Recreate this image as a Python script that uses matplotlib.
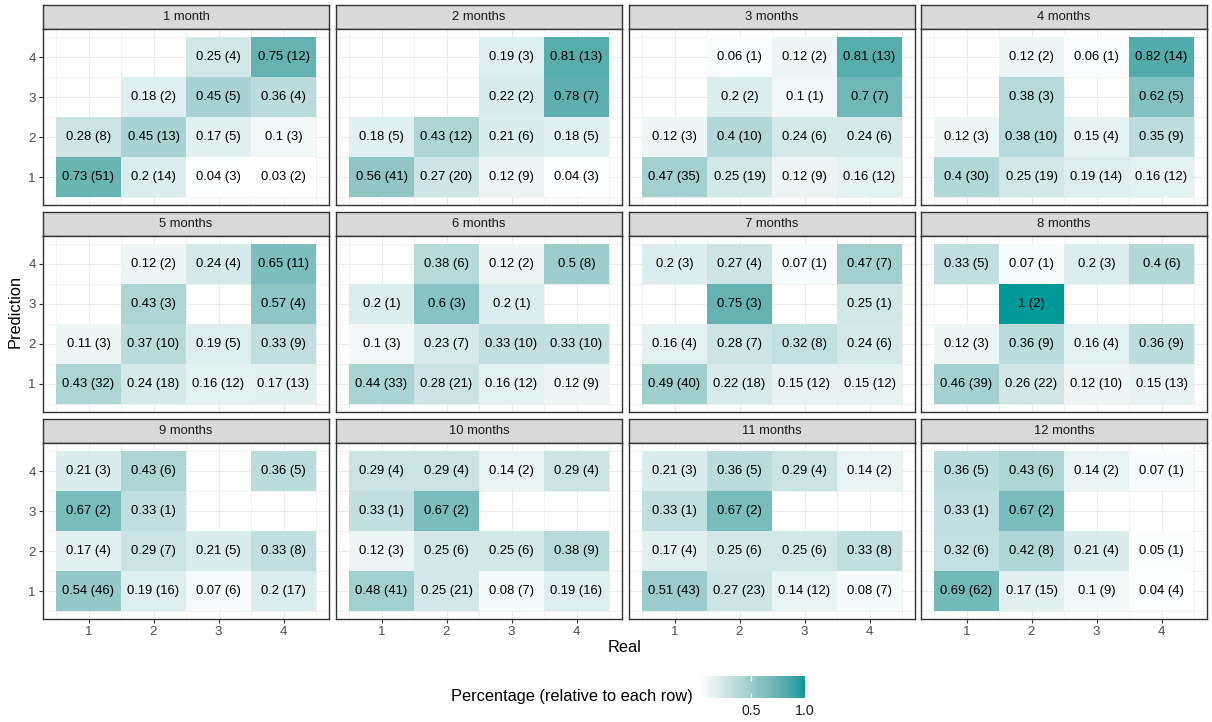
import numpy as np
import matplotlib
matplotlib.use("Agg")
import matplotlib.pyplot as plt
from matplotlib.colors import ListedColormap, Normalize


plt.rcParams["font.family"] = ["Liberation Sans", "DejaVu Sans"]

# ----------------------------
# Data: rows = Prediction 1..4, columns = Real 1..4
# ----------------------------
nan = np.nan
months = ["1 month", "2 months", "3 months", "4 months",
          "5 months", "6 months", "7 months", "8 months",
          "9 months", "10 months", "11 months", "12 months"]
real = [1, 2, 3, 4]
prediction = [1, 2, 3, 4]

p01 = [[0.73, 0.2, 0.04, 0.03], [0.28, 0.45, 0.17, 0.1], [nan, 0.18, 0.45, 0.36], [nan, nan, 0.25, 0.75]]
n01 = [[51, 14, 3, 2], [8, 13, 5, 3], [nan, 2, 5, 4], [nan, nan, 4, 12]]
p02 = [[0.56, 0.27, 0.12, 0.04], [0.18, 0.43, 0.21, 0.18], [nan, nan, 0.22, 0.78], [nan, nan, 0.19, 0.81]]
n02 = [[41, 20, 9, 3], [5, 12, 6, 5], [nan, nan, 2, 7], [nan, nan, 3, 13]]
p03 = [[0.47, 0.25, 0.12, 0.16], [0.12, 0.4, 0.24, 0.24], [nan, 0.2, 0.1, 0.7], [nan, 0.06, 0.12, 0.81]]
n03 = [[35, 19, 9, 12], [3, 10, 6, 6], [nan, 2, 1, 7], [nan, 1, 2, 13]]
p04 = [[0.4, 0.25, 0.19, 0.16], [0.12, 0.38, 0.15, 0.35], [nan, 0.38, nan, 0.62], [nan, 0.12, 0.06, 0.82]]
n04 = [[30, 19, 14, 12], [3, 10, 4, 9], [nan, 3, nan, 5], [nan, 2, 1, 14]]
p05 = [[0.43, 0.24, 0.16, 0.17], [0.11, 0.37, 0.19, 0.33], [nan, 0.43, nan, 0.57], [nan, 0.12, 0.24, 0.65]]
n05 = [[32, 18, 12, 13], [3, 10, 5, 9], [nan, 3, nan, 4], [nan, 2, 4, 11]]
p06 = [[0.44, 0.28, 0.16, 0.12], [0.1, 0.23, 0.33, 0.33], [0.2, 0.6, 0.2, nan], [nan, 0.38, 0.12, 0.5]]
n06 = [[33, 21, 12, 9], [3, 7, 10, 10], [1, 3, 1, nan], [nan, 6, 2, 8]]
p07 = [[0.49, 0.22, 0.15, 0.15], [0.16, 0.28, 0.32, 0.24], [nan, 0.75, nan, 0.25], [0.2, 0.27, 0.07, 0.47]]
n07 = [[40, 18, 12, 12], [4, 7, 8, 6], [nan, 3, nan, 1], [3, 4, 1, 7]]
p08 = [[0.46, 0.26, 0.12, 0.15], [0.12, 0.36, 0.16, 0.36], [nan, 1.0, nan, nan], [0.33, 0.07, 0.2, 0.4]]
n08 = [[39, 22, 10, 13], [3, 9, 4, 9], [nan, 2, nan, nan], [5, 1, 3, 6]]
p09 = [[0.54, 0.19, 0.07, 0.2], [0.17, 0.29, 0.21, 0.33], [0.67, 0.33, nan, nan], [0.21, 0.43, nan, 0.36]]
n09 = [[46, 16, 6, 17], [4, 7, 5, 8], [2, 1, nan, nan], [3, 6, nan, 5]]
p10 = [[0.48, 0.25, 0.08, 0.19], [0.12, 0.25, 0.25, 0.38], [0.33, 0.67, nan, nan], [0.29, 0.29, 0.14, 0.29]]
n10 = [[41, 21, 7, 16], [3, 6, 6, 9], [1, 2, nan, nan], [4, 4, 2, 4]]
p11 = [[0.51, 0.27, 0.14, 0.08], [0.17, 0.25, 0.25, 0.33], [0.33, 0.67, nan, nan], [0.21, 0.36, 0.29, 0.14]]
n11 = [[43, 23, 12, 7], [4, 6, 6, 8], [1, 2, nan, nan], [3, 5, 4, 2]]
p12 = [[0.69, 0.17, 0.1, 0.04], [0.32, 0.42, 0.21, 0.05], [0.33, 0.67, nan, nan], [0.36, 0.43, 0.14, 0.07]]
n12 = [[62, 15, 9, 4], [6, 8, 4, 1], [1, 2, nan, nan], [5, 6, 2, 1]]

props = [p01, p02, p03, p04, p05, p06, p07, p08, p09, p10, p11, p12]
counts = [n01, n02, n03, n04, n05, n06, n07, n08, n09, n10, n11, n12]


# ----------------------------
# White -> teal gradient interpolated in CIELAB
# ----------------------------
M = np.array([[0.4124, 0.3576, 0.1805],
              [0.2126, 0.7152, 0.0722],
              [0.0193, 0.1192, 0.9505]])
WHITE = np.array([0.95047, 1.0, 1.08883])
D = 6 / 29


def srgb_to_lab(rgb):
    rgb = np.asarray(rgb, float)
    lin = np.where(rgb <= 0.04045, rgb / 12.92, ((rgb + 0.055) / 1.055) ** 2.4)
    t = (lin @ M.T) / WHITE
    f = np.where(t > D ** 3, np.cbrt(t), t / (3 * D ** 2) + 4 / 29)
    return np.stack([116 * f[..., 1] - 16,
                     500 * (f[..., 0] - f[..., 1]),
                     200 * (f[..., 1] - f[..., 2])], -1)


def lab_to_srgb(lab):
    fy = (lab[..., 0] + 16) / 116
    f = np.stack([fy + lab[..., 1] / 500, fy, fy - lab[..., 2] / 200], -1)
    t = np.where(f > D, f ** 3, 3 * D ** 2 * (f - 4 / 29))
    lin = np.clip((t * WHITE) @ np.linalg.inv(M).T, 0, 1)
    rgb = np.where(lin <= 0.0031308, 12.92 * lin, 1.055 * lin ** (1 / 2.4) - 0.055)
    return np.clip(rgb, 0, 1)


low = srgb_to_lab([1.0, 1.0, 1.0])
high = srgb_to_lab(np.array([0x00, 0x99, 0x99]) / 255)
steps = np.linspace(0, 1, 256)[:, None]
cmap = ListedColormap(lab_to_srgb(low + steps * (high - low)))

all_props = np.array(props, float)
norm = Normalize(np.nanmin(all_props), np.nanmax(all_props))


def fmt(v):
    return f"{round(v, 2):g}"


# ----------------------------
# Layout (pixels)
# ----------------------------
W, H = 1212, 722
col_left = [43, 336, 629, 921]
panel_w = 286
row_top = [5, 212, 419]
strip_h = 24
panel_h = 176

fig = plt.figure(figsize=(W / 100, H / 100), dpi=100)


def box(x, y, w, h):
    return [x / W, 1 - (y + h) / H, w / W, h / H]


edges = np.arange(0.5, 5.0, 1.0)

for i, month in enumerate(months):
    r, c = divmod(i, 4)
    x0 = col_left[c]
    y0 = row_top[r]

    # strip
    sax = fig.add_axes(box(x0, y0, panel_w, strip_h))
    sax.set_facecolor("#D9D9D9")
    sax.set_xticks([])
    sax.set_yticks([])
    for sp in sax.spines.values():
        sp.set_color("#333333")
        sp.set_linewidth(1.0)
    sax.text(0.5, 0.5, month, ha="center", va="center", fontsize=9.4,
             color="#1A1A1A", transform=sax.transAxes)

    # panel
    ax = fig.add_axes(box(x0, y0 + strip_h, panel_w, panel_h))
    vals = np.ma.masked_invalid(np.array(props[i], float))
    ax.pcolormesh(edges, edges, vals, cmap=cmap, norm=norm, zorder=2)
    for yi, p in enumerate(prediction):
        for xi, rl in enumerate(real):
            v = props[i][yi][xi]
            if np.isnan(v):
                continue
            ax.text(rl, p, f"{fmt(v)} ({int(counts[i][yi][xi])})",
                    ha="center", va="center", fontsize=9.4, color="black", zorder=3)

    ax.set_xlim(0.3, 4.7)
    ax.set_ylim(0.3, 4.7)
    ax.set_xticks(real)
    ax.set_yticks(prediction)
    ax.set_xticks(edges, minor=True)
    ax.set_yticks(edges, minor=True)
    ax.grid(which="major", color="#EBEBEB", linewidth=0.8, zorder=0)
    ax.grid(which="minor", color="#EBEBEB", linewidth=0.5, zorder=0)
    ax.set_axisbelow(True)
    ax.tick_params(which="minor", length=0)
    ax.tick_params(which="major", length=2.9, width=0.8, color="#333333",
                   labelsize=9.6, labelcolor="#4D4D4D", pad=2.2)
    if c != 0:
        ax.tick_params(axis="y", length=0, labelleft=False)
    if r != 2:
        ax.tick_params(axis="x", length=0, labelbottom=False)
    for sp in ax.spines.values():
        sp.set_color("#333333")
        sp.set_linewidth(1.0)
        sp.set_zorder(4)

# axis titles
fig.text(625 / W, 1 - 647 / H, "Real", ha="center", va="center", fontsize=11.8)
fig.text(15 / W, 1 - 311.5 / H, "Prediction", ha="center", va="center",
         rotation=90, fontsize=11.8)

# ----------------------------
# Colour bar legend
# ----------------------------
cax = fig.add_axes(box(700, 676, 105, 22))
grad = np.linspace(norm.vmin, norm.vmax, 300)[None, :]
cax.imshow(grad, cmap=cmap, norm=norm, aspect="auto",
           extent=[norm.vmin, norm.vmax, 0, 1])
cax.set_xlim(norm.vmin, norm.vmax)
cax.set_ylim(0, 1)
for sp in cax.spines.values():
    sp.set_visible(False)
cax.set_yticks([])
cax.set_xticks([])
for t in [0.5, 1.0]:
    cax.plot([t, t], [0, 0.2], color="white", linewidth=0.9)
    cax.plot([t, t], [0.8, 1], color="white", linewidth=0.9)
    cax.text(t, -0.6, f"{t:.1f}", ha="center", va="center", fontsize=10.2,
             color="#1A1A1A", transform=cax.transData, clip_on=False)

fig.text(693 / W, 1 - 697 / H, "Percentage (relative to each row)",
         ha="right", va="center", fontsize=11.8)

fig.savefig("out.png", dpi=100)
